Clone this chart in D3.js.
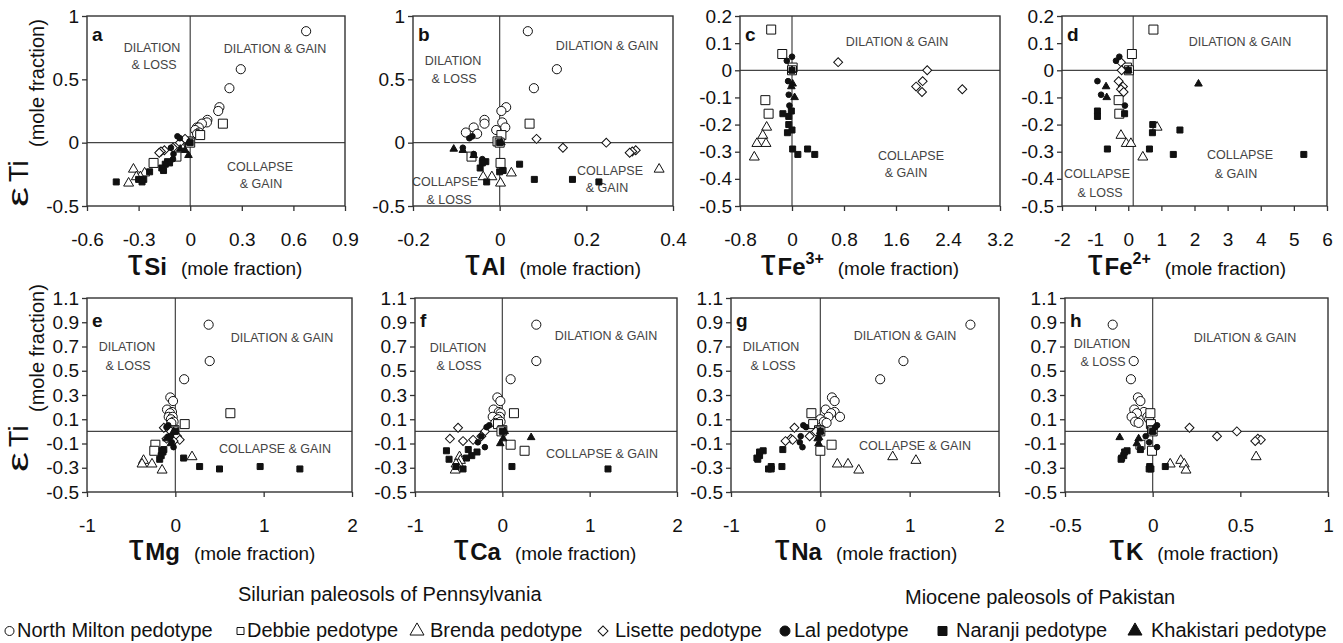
<!DOCTYPE html>
<html>
<head>
<meta charset="utf-8">
<title>Ti strain vs element mass transfer</title>
<style type="text/css">
	body { margin: 0; background: #fff; }
	svg text { font-family: "Liberation Sans", Arial, Helvetica, sans-serif; fill: #111; }
	.tick line { stroke: #333; stroke-width: 1.3; }
	.tick text { font-size: 19px; }
	.note { font-size: 12.5px; fill: #444; }
</style>
</head>
<body>
<svg id="chart"></svg>

<script src="https://d3js.org/d3.v7.min.js"></script>
<script type="text/javascript">
// pedotypes, in drawing order
var pedotypes = ["North Milton", "Debbie", "Brenda", "Lisette", "Lal", "Naranji", "Khakistari"];
var legendLabels = ["North Milton pedotype", "Debbie pedotype", "Brenda pedotype", "Lisette pedotype",
	"Lal pedotype", "Naranji pedotype", "Khakistari pedotype"];

// strain of Ti (y of every panel), one list per pedotype
var epsNorthMilton = [0.88, 0.58, 0.43, 0.28, 0.25, 0.18, 0.16, 0.15, 0.12, 0.12, 0.10, 0.08, 0.07];
var epsDebbie = [0.15, 0.06, 0.01, 0, -0.11, -0.16];
var epsBrenda = [-0.21, -0.24, -0.27, -0.27, -0.32];
var epsLisette = [0.03, 0, -0.04, -0.06, -0.07, -0.08];
var epsLal = [0.05, 0.035, -0.04, -0.09, -0.13];
var epsNaranji = [0, -0.15, -0.16, -0.17, -0.2, -0.22, -0.23, -0.29, -0.29, -0.31, -0.31];
var epsKhakistari = [0, -0.05, -0.06, -0.1];
var eps = [epsNorthMilton, epsDebbie, epsBrenda, epsLisette, epsLal, epsNaranji, epsKhakistari];

// mass transfer tau of each element, same sample order as eps (null = not analysed)
var tauSi = [
	[0.674, 0.294, 0.228, 0.17, 0.163, 0.1, 0.097, 0.068, 0.039, 0.05, 0.029, 0.052, 0.04],
	[0.19, 0.058, -0.01, 0, -0.08, -0.213],
	[-0.33, -0.265, -0.29, -0.313, -0.358],
	[-0.03, -0.06, -0.1, -0.15, -0.17, -0.18],
	[-0.074, -0.06, -0.112, -0.097, -0.1],
	[0, -0.132, -0.12, -0.145, -0.165, -0.155, -0.236, -0.27, -0.3, -0.43, -0.28],
	[-0.01, -0.058, -0.03, -0.01]];
var tauAl = [
	[0.065, 0.132, 0.079, 0.015, 0.004, -0.035, 0.006, -0.035, -0.06, 0.013, -0.008, -0.078, -0.052],
	[0.069, 0.004, -0.005, 0, -0.065, 0.002],
	[0.368, 0.027, -0.038, -0.018, 0.002],
	[0.085, 0.246, 0.146, 0.314, 0.306, 0.30],
	[-0.063, -0.07, -0.085, -0.06, -0.04],
	[0, -0.032, -0.04, 0.046, -0.045, 0.008, 0, 0.168, 0.08, 0.229, -0.03],
	[0.004, -0.106, -0.085, -0.06]];
var tauFe3 = [
	null,
	[-0.32, -0.15, 0.01, 0, -0.41, -0.36],
	[-0.39, -0.45, -0.54, -0.40, -0.58],
	[0.71, 2.08, 2.01, 1.91, 2.62, 2.0],
	[0, -0.08, -0.06, -0.05, -0.04],
	[0, -0.01, -0.14, -0.05, -0.05, 0, -0.07, 0.01, 0.24, 0.09, 0.35],
	[0, 0.01, -0.01, 0.04]];
var tauFe2 = [
	null,
	[0.76, 0.11, -0.04, 0.02, -0.29, -0.27],
	[0.87, -0.22, -0.06, 0.08, 0.44],
	[-0.22, -0.2, -0.29, -0.16, -0.22, -0.14],
	[-0.27, -0.37, -0.93, -0.82, -0.1],
	[0, -0.93, -0.11, -0.93, 0.74, 1.56, 0.73, -0.63, 0.64, 1.36, 5.3],
	[0, 2.12, -0.67, -0.65]];
var tauMg = [
	[0.377, 0.389, 0.10, -0.057, -0.026, -0.094, -0.038, -0.06, -0.075, -0.03, -0.05, -0.02, -0.045],
	[0.623, 0.106, -0.01, -0.02, -0.226, -0.238],
	[0.189, -0.36, -0.377, -0.264, -0.15],
	[-0.13, -0.05, 0.02, -0.1, 0.05, -0.02],
	[-0.08, -0.1, -0.05, -0.04, -0.02],
	[0, -0.13, -0.15, -0.14, -0.16, 0.094, -0.177, 0.275, 0.96, 0.5, 1.41],
	[-0.02, -0.08, -0.1, -0.05]];
var tauCa = [
	[0.389, 0.389, 0.095, -0.057, -0.023, -0.1, -0.04, -0.02, -0.03, -0.11, -0.05, -0.02, -0.08],
	[0.133, -0.05, 0, -0.01, 0.095, 0.255],
	[-0.49, -0.48, -0.5, -0.53, -0.54],
	[-0.507, -0.2, -0.24, -0.6, -0.335, -0.45],
	[-0.15, -0.18, -0.24, -0.28, -0.2],
	[0, -0.39, -0.64, -0.29, -0.35, -0.41, -0.61, -0.53, 0.11, -0.45, 1.21],
	[0.027, 0.33, 0.01, -0.023]];
var tauNa = [
	[1.68, 0.93, 0.67, 0.13, 0.16, 0.06, 0.16, 0.12, 0.09, 0.22, 0, 0.04, 0.07],
	[-0.1, -0.08, -0.015, 0, 0.126, 0],
	[0.81, 1.07, 0.19, 0.31, 0.43],
	[-0.29, -0.05, -0.12, -0.33, -0.31, -0.39],
	[-0.19, -0.16, -0.22, -0.23, -0.2],
	[0, -0.42, -0.64, -0.68, -0.68, -0.71, -0.7, -0.43, -0.55, -0.58, -0.55],
	[0, -0.015, -0.03, -0.02]];
var tauK = [
	[-0.228, -0.108, -0.124, -0.084, -0.07, -0.105, -0.05, -0.09, -0.12, -0.03, -0.02, -0.1, -0.08],
	[-0.013, -0.01, -0.004, 0, -0.07, -0.004],
	[0.59, 0.16, 0.1, 0.18, 0.19],
	[0.21, 0.48, 0.367, 0.6, 0.617, 0.585],
	[0.025, 0.015, -0.04, -0.02, 0.025],
	[0, -0.07, -0.146, -0.16, -0.165, -0.177, -0.18, 0.072, -0.017, -0.01, -0.02],
	[0, -0.188, -0.08, -0.09]];

// tick labels
var ticksSi = [-0.6, -0.3, 0, 0.3, 0.6, 0.9];
var ticksAl = [-0.2, 0, 0.2, 0.4];
var ticksFe3 = [-0.8, 0, 0.8, 1.6, 2.4, 3.2];
var ticksFe2 = [-2, -1, 0, 1, 2, 3, 4, 5, 6];
var ticksUnit = [-1, 0, 1, 2];
var ticksK = [-0.5, 0, 0.5, 1];
var ticksEpsA = [-0.5, 0, 0.5, 1];
var ticksEpsC = [-0.5, -0.4, -0.3, -0.2, -0.1, 0, 0.1, 0.2];
var ticksEpsE = [-0.5, -0.3, -0.1, 0.1, 0.3, 0.5, 0.7, 0.9, 1.1];

var width = 1343, height = 643;
var rows = { top: { y0: 16, y1: 206, title: 275 }, bottom: { y0: 298, y1: 492, title: 560 } };

// layout of each panel
var panels = [
	{ id: "a", tau: tauSi, el: "Si", sup: "", row: "top", x0: 87, x1: 345, tx: 215, xdom: [-0.6, 0.9], xt: ticksSi, ydom: [-0.5, 1], yt: ticksEpsA, vline: 0,
	  notes: [["DILATION", 152, 52], ["& LOSS", 154, 69], ["DILATION & GAIN", 275, 53], ["COLLAPSE", 260, 171], ["& GAIN", 261, 188]] },
	{ id: "b", tau: tauAl, el: "Al", sup: "", row: "top", x0: 413, x1: 673, tx: 553, xdom: [-0.2, 0.4], xt: ticksAl, ydom: [-0.5, 1], yt: ticksEpsA, vline: 0,
	  notes: [["DILATION", 453, 65], ["& LOSS", 454, 83], ["DILATION & GAIN", 607, 50], ["COLLAPSE", 445, 186], ["& LOSS", 449, 204], ["COLLAPSE", 610, 175], ["& GAIN", 607, 192]] },
	{ id: "c", tau: tauFe3, el: "Fe", sup: "3+", row: "top", x0: 740, x1: 1000, tx: 860, xdom: [-0.8, 3.2], xt: ticksFe3, ydom: [-0.5, 0.2], yt: ticksEpsC, vline: 0,
	  notes: [["DILATION & GAIN", 897, 46], ["COLLAPSE", 911, 160], ["& GAIN", 906, 177]] },
	{ id: "d", tau: tauFe2, el: "Fe", sup: "2+", row: "top", x0: 1062, x1: 1327, tx: 1187, xdom: [-2, 6], xt: ticksFe2, ydom: [-0.5, 0.2], yt: ticksEpsC, vline: 0.15,
	  notes: [["DILATION & GAIN", 1240, 46], ["COLLAPSE", 1240, 159], ["& GAIN", 1236, 178], ["COLLAPSE", 1097, 178], ["& LOSS", 1100, 197]] },
	{ id: "e", tau: tauMg, el: "Mg", sup: "", row: "bottom", x0: 87, x1: 352, tx: 222, xdom: [-1, 2], xt: ticksUnit, ydom: [-0.5, 1.1], yt: ticksEpsE, vline: 0,
	  notes: [["DILATION", 127, 351], ["& LOSS", 128, 370], ["DILATION & GAIN", 282, 342], ["COLLAPSE & GAIN", 275, 453]] },
	{ id: "f", tau: tauCa, el: "Ca", sup: "", row: "bottom", x0: 415, x1: 677, tx: 545, xdom: [-1, 2], xt: ticksUnit, ydom: [-0.5, 1.1], yt: ticksEpsE, vline: 0,
	  notes: [["DILATION", 458, 352], ["& LOSS", 459, 370], ["DILATION & GAIN", 606, 340], ["COLLAPSE & GAIN", 602, 458]] },
	{ id: "g", tau: tauNa, el: "Na", sup: "", row: "bottom", x0: 731, x1: 999, tx: 866, xdom: [-1, 2], xt: ticksUnit, ydom: [-0.5, 1.1], yt: ticksEpsE, vline: 0,
	  notes: [["DILATION", 771, 351], ["& LOSS", 773, 370], ["DILATION & GAIN", 905, 340], ["COLLAPSE & GAIN", 915, 450]] },
	{ id: "h", tau: tauK, el: "K", sup: "", row: "bottom", x0: 1065, x1: 1328, tx: 1194, xdom: [-0.5, 1], xt: ticksK, ydom: [-0.5, 1.1], yt: ticksEpsE, vline: 0,
	  notes: [["DILATION", 1102, 348], ["& LOSS", 1103, 366], ["DILATION & GAIN", 1245, 342]] }
];

// marker style per pedotype
var markers = [
	{ type: d3.symbolCircle, size: 66, fill: "#fff", rot: 0 },
	{ type: d3.symbolSquare, size: 81, fill: "#fff", rot: 0 },
	{ type: d3.symbolTriangle, size: 43, fill: "#fff", rot: 0 },
	{ type: d3.symbolSquare, size: 40, fill: "#fff", rot: 45 },
	{ type: d3.symbolCircle, size: 25, fill: "#111", rot: 0 },
	{ type: d3.symbolSquare, size: 36, fill: "#111", rot: 0 },
	{ type: d3.symbolTriangle, size: 25, fill: "#111", rot: 0 }
];

var fmt = function(d) { return String(+d.toFixed(2)); };

var svg = d3.select("#chart")
	.attr("width", width)
	.attr("height", height);

panels.forEach(function(p) {
	var r = rows[p.row];
	var x = d3.scaleLinear().domain(p.xdom).range([p.x0, p.x1]);
	var y = d3.scaleLinear().domain(p.ydom).range([r.y1, r.y0]);
	var g = svg.append("g").attr("class", "panel");

	// quadrant lines
	g.append("line")
		.attr("x1", x(p.vline)).attr("x2", x(p.vline))
		.attr("y1", r.y0).attr("y2", r.y1)
		.attr("stroke", "#444").attr("stroke-width", 1.2);
	g.append("line")
		.attr("x1", p.x0).attr("x2", p.x1)
		.attr("y1", y(0)).attr("y2", y(0))
		.attr("stroke", "#444").attr("stroke-width", 1.2);

	g.selectAll(".note")
		.data(p.notes)
		.enter().append("text")
			.attr("class", "note")
			.attr("x", d => d[1])
			.attr("y", d => d[2])
			.attr("text-anchor", "middle")
			.text(d => d[0]);

	g.append("rect")
		.attr("x", p.x0).attr("y", r.y0)
		.attr("width", p.x1 - p.x0).attr("height", r.y1 - r.y0)
		.attr("fill", "none").attr("stroke", "#333").attr("stroke-width", 1.4);

	var xa = g.append("g")
		.attr("transform", "translate(0," + r.y1 + ")")
		.call(d3.axisBottom(x).tickValues(p.xt).tickSize(5).tickPadding(22).tickFormat(fmt));
	var ya = g.append("g")
		.attr("transform", "translate(" + p.x0 + ",0)")
		.call(d3.axisLeft(y).tickValues(p.yt).tickSize(5).tickPadding(3).tickFormat(fmt));
	xa.select(".domain").remove();
	ya.select(".domain").remove();
	g.selectAll(".tick text").attr("font-family", null).attr("font-size", null);

	// points, open symbols first then the filled ones
	p.tau.forEach(function(xs, i) {
		if (!xs) return;
		var m = markers[i];
		var pts = xs.map((v, j) => ({ x: v, y: eps[i][j] }));
		g.selectAll(".pt" + i)
			.data(pts)
			.enter().append("path")
				.attr("class", "pt" + i)
				.attr("d", d3.symbol().type(m.type).size(m.size))
				.attr("transform", d => "translate(" + x(d.x) + "," + y(d.y) + ") rotate(" + m.rot + ")")
				.attr("fill", m.fill)
				.attr("stroke", "#111")
				.attr("stroke-width", 1);
	});

	// panel letter
	g.append("text")
		.attr("x", p.x0 + 5).attr("y", r.y0 + (p.row == "top" ? 25 : 29))
		.attr("font-size", 19).attr("font-weight", "bold")
		.text(p.id);

	// x title
	var t = g.append("text")
		.attr("x", p.tx).attr("y", r.title)
		.attr("text-anchor", "middle");
	t.append("tspan").attr("font-size", 37).text("τ");
	t.append("tspan").attr("font-size", 24).attr("font-weight", "bold").attr("dx", 2).text(p.el);
	if (p.sup) {
		t.append("tspan").attr("font-size", 16).attr("font-weight", "bold").attr("dy", -11).text(p.sup);
	}
	t.append("tspan").attr("font-size", 19).attr("dx", 14).attr("dy", p.sup ? 11 : 0).text("(mole fraction)");
});

// y titles on the left column
[["top", 207, 147], ["bottom", 472, 412]].forEach(function(d) {
	svg.append("text")
		.attr("transform", "translate(28," + d[1] + ") rotate(-90) scale(1.5,1)")
		.attr("font-size", 30)
		.text("ε");
	svg.append("text")
		.attr("transform", "translate(28," + (d[1] - 25) + ") rotate(-90)")
		.attr("font-size", 27)
		.text("Ti");
	svg.append("text")
		.attr("transform", "translate(44," + d[2] + ") rotate(-90)")
		.attr("font-size", 20)
		.text("(mole fraction)");
});

// group captions
svg.append("text").attr("x", 238).attr("y", 601).attr("font-size", 20).text("Silurian paleosols of Pennsylvania");
svg.append("text").attr("x", 905).attr("y", 604).attr("font-size", 20).text("Miocene paleosols of Pakistan");

// legend
var legendPos = [[9.5, 17], [240.5, 247], [417, 430], [603, 615], [785, 794], [942.5, 956], [1135, 1151]];
var legendSize = [64, 49, 85, 50, 79, 81, 85];
var legend = svg.append("g").attr("class", "legend");
legendLabels.forEach(function(label, i) {
	var m = markers[i];
	legend.append("path")
		.attr("d", d3.symbol().type(m.type).size(legendSize[i]))
		.attr("transform", "translate(" + legendPos[i][0] + ",631) rotate(" + m.rot + ")")
		.attr("fill", m.fill)
		.attr("stroke", "#111")
		.attr("stroke-width", 1);
	legend.append("text")
		.attr("x", legendPos[i][1]).attr("y", 637)
		.attr("font-size", 20)
		.text(label);
});
</script>
</body>
</html>
